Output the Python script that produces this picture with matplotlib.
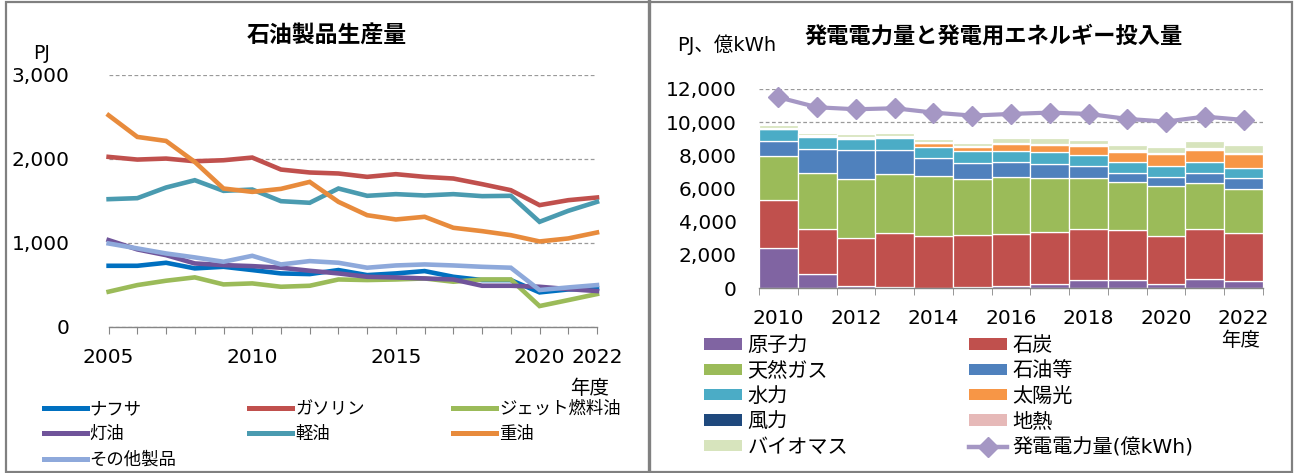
import matplotlib
matplotlib.use("Agg")
import matplotlib.pyplot as plt
from matplotlib.patches import Patch, Rectangle
from matplotlib.lines import Line2D
from matplotlib.ticker import FuncFormatter

plt.rcParams['font.family'] = ['DejaVu Sans', 'Noto Sans CJK JP']

# 石油製品生産量 (PJ)
oil_years = list(range(2005, 2023))
naphtha = [726, 726, 762, 695, 714, 675, 635, 627, 675, 615, 635, 663, 595, 556, 556, 409, 444, 456]
gasoline = [2024, 1992, 2004, 1972, 1984, 2016, 1873, 1838, 1826, 1786, 1818, 1786, 1766, 1699, 1627, 1449, 1508, 1540]
jet_fuel = [417, 496, 548, 588, 504, 516, 476, 488, 563, 556, 563, 575, 536, 563, 563, 246, 317, 389]
kerosene = [1032, 921, 853, 754, 734, 722, 703, 667, 635, 595, 587, 575, 563, 488, 488, 476, 448, 425]
diesel = [1520, 1532, 1659, 1746, 1619, 1635, 1496, 1477, 1647, 1560, 1580, 1564, 1580, 1556, 1560, 1250, 1381, 1488]
fuel_oil = [2520, 2262, 2214, 1964, 1647, 1607, 1643, 1726, 1488, 1329, 1278, 1310, 1179, 1139, 1091, 1016, 1052, 1123]
other_products = [992, 933, 873, 826, 774, 845, 742, 782, 762, 703, 730, 742, 730, 714, 703, 437, 468, 496]

# 発電電力量と発電用エネルギー投入量 (PJ, 億kWh)
gen_years = list(range(2010, 2023))
nuclear = [2408, 843, 140, 70, 0, 70, 140, 240, 482, 462, 261, 542, 421]
coal = [2870, 2709, 2870, 3242, 3151, 3141, 3111, 3132, 3070, 3010, 2890, 3010, 2911]
gas = [2690, 3372, 3553, 3552, 3593, 3372, 3432, 3291, 3111, 2910, 2970, 2770, 2649]
oil = [923, 1485, 1786, 1465, 1083, 943, 923, 843, 702, 582, 602, 622, 662]
hydro = [703, 723, 662, 702, 703, 723, 663, 682, 663, 663, 663, 663, 623]
solar = [20, 40, 50, 100, 200, 281, 421, 462, 562, 602, 682, 742, 810]
wind = [25, 25, 25, 30, 30, 35, 35, 40, 45, 50, 55, 60, 60]
geothermal = [20, 20, 20, 20, 20, 20, 20, 20, 20, 20, 20, 20, 20]
biomass = [175, 155, 166, 150, 191, 145, 326, 341, 276, 331, 367, 442, 450]
generation = [11500, 10898, 10778, 10838, 10577, 10396, 10497, 10577, 10497, 10196, 10035, 10336, 10135]

W, H = 1295, 473
fig = plt.figure(figsize=(W / 100, H / 100), dpi=100)

grid_kw = dict(color='#9a9a9a', linestyle=(0, (3, 2)), linewidth=0.9)
spine_col = '#868686'
comma = FuncFormatter(lambda v, p: f'{int(v):,}')
tick_fs = 14.5

# ---- 左: 石油製品生産量 ----
ax1 = fig.add_axes([108.6 / W, (H - 326.7) / H, (597 - 108.6) / W, (326.7 - 75) / H])
series = [
    ('ナフサ', naphtha, '#0070C0'),
    ('ガソリン', gasoline, '#C0504D'),
    ('ジェット燃料油', jet_fuel, '#9BBB59'),
    ('灯油', kerosene, '#70549A'),
    ('軽油', diesel, '#4A9BB0'),
    ('重油', fuel_oil, '#E88B3C'),
    ('その他製品', other_products, '#8EA9DB'),
]
handles1 = {}
for name, vals, col in series:
    ln, = ax1.plot(oil_years, vals, color=col, lw=3.3, solid_joinstyle='miter', clip_on=False)
    handles1[name] = ln

ax1.set_xlim(2005, 2022)
ax1.set_ylim(0, 3000)
ax1.set_yticks([0, 1000, 2000, 3000])
ax1.yaxis.set_major_formatter(comma)
ax1.set_xticks(oil_years)
ax1.set_xticklabels([str(y) if y in (2005, 2010, 2015, 2020, 2022) else '' for y in oil_years])
ax1.yaxis.grid(True, **grid_kw)
ax1.set_axisbelow(True)
for s in ('left', 'right', 'top'):
    ax1.spines[s].set_visible(False)
ax1.spines['bottom'].set_color(spine_col)
ax1.spines['bottom'].set_linewidth(1.0)
ax1.tick_params(axis='y', length=0, pad=28, labelsize=tick_fs)
ax1.tick_params(axis='x', direction='out', length=5, color=spine_col, pad=10, labelsize=tick_fs)

fig.text(327 / W, 1 - 36 / H, '石油製品生産量', ha='center', va='center', fontsize=16.5, fontweight='bold')
fig.text(33 / W, 1 - 53 / H, 'PJ', ha='left', va='center', fontsize=13.5)
fig.text(590 / W, 1 - 388 / H, '年度', ha='center', va='center', fontsize=14)

leg_cols1 = [(43.5, ['ナフサ', '灯油', 'その他製品']),
             (249, ['ガソリン', '軽油']),
             (453, ['ジェット燃料油', '重油'])]
for x0, names in leg_cols1:
    hs = [Line2D([], [], color=handles1[n].get_color(), lw=3.6) for n in names]
    fig.legend(hs, names, loc='upper left', bbox_to_anchor=(x0 / W, 1 - 400 / H),
               frameon=False, fontsize=12.5, handlelength=2.5, handletextpad=0.15,
               labelspacing=0.42, borderpad=0, borderaxespad=0)

# ---- 右: 発電電力量と発電用エネルギー投入量 ----
ax2 = fig.add_axes([759 / W, (H - 288) / H, (1263 - 759) / W, (288 - 89) / H])
stack = [
    ('原子力', nuclear, '#8064A2'),
    ('石炭', coal, '#C0504D'),
    ('天然ガス', gas, '#9BBB59'),
    ('石油等', oil, '#4F81BD'),
    ('水力', hydro, '#4BACC6'),
    ('太陽光', solar, '#F79646'),
    ('風力', wind, '#1F497D'),
    ('地熱', geothermal, '#E6B9B8'),
    ('バイオマス', biomass, '#D7E4BD'),
]
bottom = [0] * len(gen_years)
colors2 = {}
for name, vals, col in stack:
    ax2.bar(gen_years, vals, bottom=bottom, width=1.0, color=col, edgecolor='white',
            linewidth=0.9, zorder=2)
    bottom = [b + v for b, v in zip(bottom, vals)]
    colors2[name] = col
line_col = '#A597C4'
ax2.plot(gen_years, generation, color=line_col, lw=3.0, marker='D', markersize=10,
         zorder=4, clip_on=False)

ax2.set_xlim(2009.5, 2022.5)
ax2.set_ylim(0, 12000)
ax2.set_yticks(range(0, 12001, 2000))
ax2.yaxis.set_major_formatter(comma)
ax2.set_xticks(range(2010, 2023, 2))
ax2.set_xticks([y - 0.5 for y in gen_years] + [2022.5], minor=True)
ax2.yaxis.grid(True, **grid_kw)
ax2.set_axisbelow(True)
for s in ('left', 'right', 'top'):
    ax2.spines[s].set_visible(False)
ax2.spines['bottom'].set_color(spine_col)
ax2.spines['bottom'].set_linewidth(1.0)
ax2.spines['bottom'].set_zorder(3)
ax2.tick_params(axis='y', length=0, pad=16, labelsize=tick_fs)
ax2.tick_params(axis='x', which='major', length=0, pad=15, labelsize=tick_fs)
ax2.tick_params(axis='x', which='minor', direction='out', length=5, color=spine_col)

fig.text(994 / W, 1 - 36 / H, '発電電力量と発電用エネルギー投入量', ha='center', va='center',
         fontsize=16, fontweight='bold')
fig.text(677 / W, 1 - 45 / H, 'PJ、億kWh', ha='left', va='center', fontsize=14)
fig.text(1241 / W, 1 - 341 / H, '年度', ha='center', va='center', fontsize=14)

leg_cols2 = [(704, ['原子力', '天然ガス', '水力', '風力', 'バイオマス']),
             (969, ['石炭', '石油等', '太陽光', '地熱', None])]
for x0, names in leg_cols2:
    hs, labels = [], []
    for n in names:
        if n is None:
            hs.append(Line2D([], [], color=line_col, lw=3.2, marker='D', markersize=10))
            labels.append('発電電力量(億kWh)')
        else:
            hs.append(Patch(facecolor=colors2[n], edgecolor='none'))
            labels.append(n)
    fig.legend(hs, labels, loc='upper left', bbox_to_anchor=(x0 / W, 1 - 336 / H),
               frameon=False, fontsize=14.5, handlelength=1.9, handleheight=0.5,
               handletextpad=0.25, labelspacing=0.32, borderpad=0, borderaxespad=0)

# パネル枠
fig.add_artist(Rectangle((5.5 / W, 1.5 / H), (1291.5 - 5.5) / W, (471 - 1.5) / H,
                         transform=fig.transFigure, fill=False, ec='#808080', lw=1.6))
fig.add_artist(Line2D([649 / W, 649 / W], [1.5 / H, 471.5 / H], transform=fig.transFigure,
                      color='#808080', lw=2.4))

fig.savefig('out.png', dpi=100)
